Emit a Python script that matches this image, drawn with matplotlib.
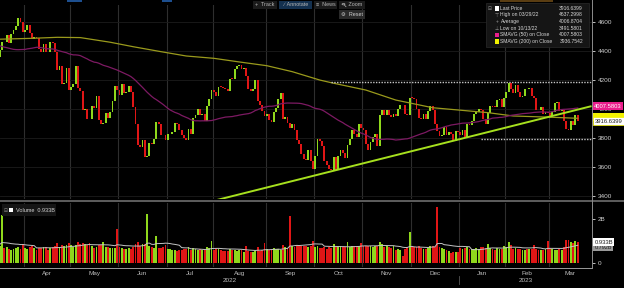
import numpy as np
import pandas as pd
import matplotlib
matplotlib.use('Agg')
import matplotlib.pyplot as plt
from matplotlib.patches import Rectangle, Circle
from matplotlib.lines import Line2D
from matplotlib.transforms import blended_transform_factory as blend

plt.rcParams['font.family'] = ['Liberation Sans', 'DejaVu Sans']

# ---- data ----
MONTHS = ['Mar', 'Apr', 'May', 'Jun', 'Jul', 'Aug', 'Sep', 'Oct', 'Nov', 'Dec', 'Jan', 'Feb', 'Mar']
MONTH_DAYS = [11, 20, 21, 21, 20, 23, 21, 21, 21, 21, 20, 19, 13]
YEARS = ['2022', '2023']
YEAR_START_MONTH = [0, 10]

# closes before the chart window (for the 50 day average), last one = open of first candle
PRE_CLOSES = [4796.56, 4793.54, 4700.58, 4696.05, 4677.03, 4670.29, 4713.07, 4726.35, 4659.03, 4662.85,
              4577.11, 4532.76, 4482.73, 4397.94, 4410.13, 4356.45, 4349.93, 4326.51, 4431.85, 4515.55,
              4546.54, 4589.38, 4477.44, 4500.53, 4483.87, 4521.54, 4587.18, 4504.08, 4418.64, 4401.67,
              4471.07, 4475.01, 4380.26, 4348.87, 4304.76, 4225.50, 4288.70, 4384.65, 4373.94, 4306.26,
              4386.54, 4363.49, 4328.87, 4201.09, 4170.70, 4277.88, 4259.52, 4204.31, 4173.11, 4262.45,
              4357.86]

closes = [
    # Mar 22
    4411.67, 4463.12, 4461.18, 4511.61, 4456.24, 4520.16, 4543.06, 4575.52, 4631.60, 4602.45, 4530.41,
    # Apr
    4545.86, 4582.64, 4525.12, 4481.15, 4500.21, 4488.28, 4412.53, 4397.45, 4446.59, 4392.59,
    4391.69, 4462.21, 4459.45, 4393.66, 4271.78, 4296.12, 4175.20, 4183.96, 4287.50, 4131.93,
    # May
    4155.38, 4175.48, 4300.17, 4146.87, 4123.34, 3991.24, 4001.05, 3935.18, 3930.08, 4023.89,
    4008.01, 4088.85, 3923.68, 3900.79, 3901.36, 3973.75, 3941.48, 3978.73, 4057.84, 4158.24, 4132.15,
    # Jun
    4101.23, 4176.82, 4108.54, 4121.43, 4160.68, 4115.77, 4017.82, 3900.86, 3749.63, 3735.48,
    3789.99, 3666.77, 3674.84, 3764.79, 3759.89, 3795.73, 3911.74, 3900.11, 3821.55, 3818.83, 3785.38,
    # Jul
    3825.33, 3831.39, 3845.08, 3902.62, 3899.38, 3854.43, 3818.80, 3801.78, 3790.38, 3863.16,
    3830.85, 3936.69, 3959.90, 3998.95, 3961.63, 3966.84, 3921.05, 4023.61, 4072.43, 4130.29,
    # Aug
    4118.63, 4091.19, 4155.17, 4151.94, 4145.19, 4140.06, 4122.47, 4210.24, 4207.27, 4280.15,
    4297.14, 4305.20, 4274.04, 4283.74, 4228.48, 4137.99, 4128.73, 4140.77, 4199.12, 4057.66,
    4030.61, 3986.16, 3955.00,
    # Sep
    3966.85, 3924.26, 3908.19, 3979.87, 4006.18, 4067.36, 4110.41, 3932.69, 3946.01, 3901.35,
    3873.33, 3899.89, 3855.93, 3789.93, 3757.99, 3693.23, 3655.04, 3647.29, 3719.04, 3640.47, 3585.62,
    # Oct
    3678.43, 3790.93, 3783.28, 3744.52, 3639.66, 3612.39, 3588.84, 3577.03, 3669.91, 3583.07,
    3677.95, 3719.98, 3695.16, 3665.78, 3752.75, 3797.34, 3859.11, 3830.60, 3807.30, 3901.06, 3871.98,
    # Nov
    3856.10, 3759.69, 3719.89, 3770.55, 3806.80, 3828.11, 3748.57, 3956.37, 3992.93, 3957.25,
    3991.73, 3958.79, 3946.56, 3965.34, 3949.94, 4003.58, 4027.26, 4026.12, 3963.94, 3957.63, 4080.11,
    # Dec
    4076.57, 4071.70, 3998.84, 3941.26, 3933.92, 3963.51, 3934.38, 3990.56, 4019.65, 3995.32,
    3895.75, 3852.36, 3817.66, 3821.62, 3878.44, 3822.39, 3844.82, 3829.25, 3783.22, 3849.28, 3839.50,
    # Jan 23
    3824.14, 3852.97, 3808.10, 3895.08, 3892.09, 3919.25, 3969.61, 3983.17, 3999.09, 3990.97,
    3928.86, 3898.85, 3972.61, 4019.81, 4016.95, 4016.22, 4060.43, 4070.56, 4017.77, 4076.60,
    # Feb
    4119.21, 4179.76, 4136.48, 4111.08, 4164.00, 4117.86, 4081.50, 4090.46, 4137.29, 4136.13,
    4147.60, 4090.41, 4079.09, 3997.34, 3991.05, 4012.32, 3970.04, 3982.24, 3970.15,
    # Mar
    3951.39, 3981.35, 4045.64, 4048.42, 3986.37, 3992.01, 3918.32, 3861.59, 3855.76, 3919.29,
    3891.93, 3960.28, 3916.64,
]

# volume in billions
VOL_PRE = [0.82, 0.78, 0.86, 0.80, 0.92, 0.84, 0.80, 0.78, 0.88, 0.82, 0.86, 0.80, 0.84, 0.90]
volume = [
    0.74, 2.15, 0.68, 0.70, 0.62, 0.60, 0.64, 0.66, 0.72, 0.64, 0.86,
    0.66, 0.62, 0.70, 0.74, 0.66, 0.60, 0.68, 0.66, 0.70, 0.72, 0.56, 0.66, 0.70, 0.74, 0.88, 0.72,
    0.82, 0.76, 0.80, 0.90,
    0.82, 0.72, 0.80, 0.92, 0.84, 0.88, 0.86, 0.82, 0.88, 0.76, 0.68, 0.72, 0.80, 0.82, 0.96, 0.72,
    0.70, 0.66, 0.68, 0.66, 1.55,
    0.70, 0.66, 0.62, 0.64, 0.66, 0.62, 0.70, 0.86, 0.92, 0.78, 0.86, 0.84, 2.20, 0.76, 0.70, 0.66,
    1.20, 0.66, 0.68, 0.72, 0.80,
    0.62, 0.64, 0.60, 0.58, 0.54, 0.56, 0.58, 0.62, 0.64, 0.70, 0.56, 0.66, 0.62, 0.60, 0.62, 0.56,
    0.58, 0.70, 0.68, 1.00,
    0.60, 0.62, 0.64, 0.56, 0.54, 0.52, 0.54, 0.62, 0.60, 0.56, 0.52, 0.56, 0.58, 0.50, 0.76, 0.54,
    0.50, 0.48, 0.52, 0.70, 0.54, 0.58, 0.90,
    0.62, 0.56, 0.64, 0.66, 0.62, 0.64, 0.60, 0.82, 0.70, 0.68, 2.12, 0.74, 0.72, 0.80, 0.78, 0.76,
    0.74, 0.76, 0.72, 0.78, 1.00,
    0.70, 0.74, 0.68, 0.66, 0.70, 0.64, 0.70, 0.68, 0.86, 0.70, 0.72, 0.74, 0.70, 0.72, 0.92, 0.72,
    0.74, 0.76, 0.72, 0.78, 0.90,
    0.74, 0.78, 0.76, 0.78, 0.72, 0.74, 0.76, 0.96, 0.86, 0.72, 0.74, 0.70, 0.68, 0.78, 0.60, 0.62,
    0.58, 0.30, 0.62, 0.72, 1.40,
    0.78, 0.70, 0.72, 0.74, 0.68, 0.64, 0.62, 0.66, 0.78, 0.76, 0.70, 2.52, 0.72, 0.66, 0.62, 0.60,
    0.52, 0.46, 0.50, 0.48, 0.50,
    0.66, 0.64, 0.66, 0.70, 0.64, 0.62, 0.64, 0.68, 0.62, 0.72, 0.70, 0.68, 0.86, 0.66, 0.62, 0.60,
    0.66, 0.64, 0.62, 0.76,
    0.72, 0.96, 0.80, 0.62, 0.66, 0.64, 0.62, 0.58, 0.60, 0.64, 0.62, 0.62, 0.80, 0.64, 0.58, 0.60,
    0.56, 0.62, 1.00,
    0.68, 0.62, 0.60, 0.58, 0.62, 0.60, 0.72, 1.02, 1.04, 0.96, 0.88, 1.00, 0.933,
]

# 200 day average (trading-day index, value)
SMA200_IDX = [0, 14, 25, 35, 48, 58, 70, 81, 93, 104, 116, 127, 139, 145, 159, 172, 188, 212, 223, 240, 251]
SMA200_VAL = [4483, 4489, 4496, 4494, 4462, 4431, 4397, 4367, 4351, 4326, 4300, 4259, 4201, 4179,
              4132, 4063, 4010, 3976, 3953, 3944, 3937]

# drawn trend line and horizontal levels
TREND_IDX = [90, 257]
TREND_VAL = [3356, 4021]
LEVELS = [4186, 3796]
LEVEL_START = [144, 209]

PRICE_TICKS = [3400, 3600, 3800, 4000, 4200, 4400, 4600]

LEGEND = [('Last Price', '3916.6399', '#ffffff'),
          ('High on 03/29/22', '4637.2998', None),
          ('Average', '4006.8704', None),
          ('Low on 10/13/22', '3491.5801', None),
          ('SMAVG (50) on Close', '4007.5803', '#ea1e8c'),
          ('SMAVG (200) on Close', '3936.7542', '#f2f200')]

# ---- derived ----
closes = np.array(closes)
volume = np.array(volume)
n = len(closes)
idx = np.arange(n)
opens = np.r_[PRE_CLOSES[-1], closes[:-1]]
up = closes >= opens
GREEN = '#8fd81c'
RED = '#e01616'
cols = np.where(up, GREEN, RED)

allc = pd.Series(np.r_[PRE_CLOSES, closes])
sma50 = allc.rolling(50).mean().values[-n:]
vavg = pd.Series(np.r_[VOL_PRE, volume]).rolling(15, min_periods=1).mean().values[-n:]

bounds = np.cumsum(MONTH_DAYS)[:-1] - 0.5
XL, XR = 0.13, 257.2

W, H = 624, 288


def fx(x):
    return x / W


def fy(y):
    return 1 - y / H


fig = plt.figure(figsize=(W / 100, H / 100), dpi=100, facecolor='black')
ax = fig.add_axes([0, fy(199), fx(592), (199 - 5) / H])
axv = fig.add_axes([0, fy(267), fx(592), (267 - 203) / H])

for a in (ax, axv):
    a.set_facecolor('black')
    for s in a.spines.values():
        s.set_visible(False)
    a.set_xlim(XL, XR)
    a.set_xticks([])
    for b in bounds:
        a.axvline(b, color='#2e2e2e', lw=0.8, zorder=0)
    a.yaxis.tick_right()
    a.tick_params(axis='y', length=2.5, width=0.6, color='#dddddd', labelcolor='#cfcfcf',
                  labelsize=4.6, pad=1.5)

# price panel
ax.set_ylim(3380, 4719)
ax.set_yticks(PRICE_TICKS)
ax.set_yticklabels([str(t) for t in PRICE_TICKS])
for t in PRICE_TICKS:
    ax.axhline(t, color='#1c1c1c', lw=0.6, zorder=0)

body = np.maximum(np.abs(closes - opens), 5)
ax.bar(idx, body, bottom=np.minimum(opens, closes), width=0.8, color=cols, linewidth=0,
       zorder=2, antialiased=False)
ax.plot(SMA200_IDX, SMA200_VAL, color='#9a9a1c', lw=0.9, zorder=3)
ax.plot(idx, sma50, color='#7d1a63', lw=0.9, zorder=3)
ax.plot(TREND_IDX, TREND_VAL, color='#a6e01e', lw=1.4, zorder=4, solid_capstyle='butt')
for lv, st in zip(LEVELS, LEVEL_START):
    ax.plot([st, XR], [lv, lv], color='#c8c8c8', lw=1.0, ls=(0, (1, 1)), zorder=4)

# value flags on the right
ytr = blend(ax.transAxes, ax.transData)
ax.text(1.004, sma50[-1] + 14, LEGEND[4][1], transform=ytr, fontsize=4.2, color='white',
        va='center', ha='left', clip_on=False,
        bbox=dict(boxstyle='square,pad=0.25', fc='#ea1e8c', ec='none'))
ax.text(1.004, SMA200_VAL[-1] + 12, LEGEND[0][1], transform=ytr, fontsize=4.2, color='#f2f200',
        va='center', ha='left', clip_on=False,
        bbox=dict(boxstyle='square,pad=0.25', fc='#f2f200', ec='none'))
ax.text(1.004, closes[-1], LEGEND[0][1], transform=ytr, fontsize=4.2, color='#202020',
        va='center', ha='left', clip_on=False,
        bbox=dict(boxstyle='square,pad=0.25', fc='white', ec='#f2f200', lw=0.5))

# volume panel
axv.set_ylim(-0.195, 2.714)
axv.set_yticks([0, 2])
axv.set_yticklabels(['0', '2B'])
axv.bar(idx, volume, width=0.8, color=cols, linewidth=0, zorder=2, antialiased=False)
axv.plot(idx, vavg, color='#c4c4c4', lw=0.7, zorder=3)
vtr = blend(axv.transAxes, axv.transData)
axv.text(1.004, vavg[-1] - 0.08, '%.3fB' % vavg[-1], transform=vtr, fontsize=4.0, color='#202020',
         va='center', ha='left', clip_on=False,
         bbox=dict(boxstyle='square,pad=0.2', fc='#9a9a9a', ec='none'))
axv.text(1.004, volume[-1], '%.3fB' % volume[-1], transform=vtr, fontsize=4.2, color='#202020',
         va='center', ha='left', clip_on=False,
         bbox=dict(boxstyle='square,pad=0.25', fc='white', ec='none'))

# month / year labels
bx = blend(axv.transData, fig.transFigure)
edges = np.r_[XL, bounds, XR]
for i, m in enumerate(MONTHS):
    if i == 0:
        continue
    fig.text((edges[i] + edges[i + 1]) / 2, fy(273.5), m, transform=bx, fontsize=4.6,
             color='#bdbdbd', ha='center', va='center')
ystarts = [edges[m] for m in YEAR_START_MONTH] + [XR]
for i, yr in enumerate(YEARS):
    fig.text((ystarts[i] + ystarts[i + 1]) / 2, fy(281), yr, transform=bx, fontsize=4.6,
             color='#bdbdbd', ha='center', va='center')
fig.add_artist(Line2D([ystarts[1], ystarts[1]], [fy(276), fy(284)], transform=bx, color='#555555', lw=0.6))

# frame lines
fig.add_artist(Line2D([0, 1], [fy(200.5), fy(200.5)], color='#5e5e5e', lw=1.4))
fig.add_artist(Line2D([0, fx(592)], [fy(267.5), fy(267.5)], color='#9a9a9a', lw=0.7))
fig.add_artist(Line2D([fx(592), fx(592)], [fy(0), fy(267.5)], color='#8c8c8c', lw=0.7))

# legend box
fig.add_artist(Rectangle((fx(486), fy(47)), fx(589 - 486), 44 / H, facecolor='#151515',
                         edgecolor='#2a2a2a', lw=0.5))
marks = [None, '\u22a4', '+', '\u22a5', None, None]
for k, (lab, val, sq) in enumerate(LEGEND):
    yy = 8.3 + k * 6.6
    if sq:
        fig.add_artist(Rectangle((fx(494.5), fy(yy + 2.2)), fx(4.4), 4.4 / H, facecolor=sq,
                                 edgecolor='none'))
    if marks[k]:
        fig.text(fx(497), fy(yy), marks[k], fontsize=3.4, color='#9a9a9a', ha='center', va='center')
    fig.text(fx(500.5), fy(yy), lab, fontsize=3.6, color='#d6d6d6', ha='left', va='center')
    fig.text(fx(583), fy(yy), val, fontsize=3.6, color='#d6d6d6', ha='right', va='center')
fig.text(fx(489.5), fy(8.3), '\u229f', fontsize=3.4, color='#8a8a8a', ha='center', va='center')

# volume legend
fig.add_artist(Rectangle((fx(2), fy(216)), fx(54), 12 / H, facecolor='#151515', edgecolor='none'))
fig.text(fx(5.5), fy(210), '\u229f', fontsize=3.4, color='#8a8a8a', ha='center', va='center')
fig.add_artist(Rectangle((fx(9), fy(212.3)), fx(4.4), 4.4 / H, facecolor='white', edgecolor='none'))
fig.text(fx(16), fy(210), 'Volume  %.3fB' % volume[-1], fontsize=4.0, color='#d6d6d6',
         ha='left', va='center')

# toolbar
buttons = [('+  Track', 253, 277, '#1b1b1b'), ('\u2215  Annotate', 279, 312, '#13304f'),
           ('\u2261  News', 314, 337, '#1b1b1b'), ('     Zoom', 339, 365, '#1b1b1b')]
for lab, x0, x1, c in buttons:
    fig.add_artist(Rectangle((fx(x0), fy(9)), fx(x1 - x0), 8.5 / H, facecolor=c, edgecolor='none'))
    fig.text(fx((x0 + x1) / 2), fy(4.8), lab, fontsize=3.9, color='#b8b8b8', ha='center', va='center')
# magnifier icon of the Zoom button
fig.add_artist(Circle((fx(343.5), fy(4.2)), 1.5 / W * 1.0, facecolor='none', edgecolor='#b8b8b8', lw=0.5))
fig.add_artist(Line2D([fx(344.6), fx(346)], [fy(5.3), fy(6.7)], color='#b8b8b8', lw=0.5))
fig.add_artist(Rectangle((fx(339), fy(18.5)), fx(26), 8.5 / H, facecolor='#2a2a2a', edgecolor='none'))
fig.text(fx(352), fy(14.2), '\u2699  Reset', fontsize=3.9, color='#d0d0d0', ha='center', va='center')
for x0, x1, c in [(67, 82, '#1d4f8f'), (162, 172, '#1d4f8f'), (500, 553, '#5a3d12')]:
    fig.add_artist(Rectangle((fx(x0), fy(1.5)), fx(x1 - x0), 1.5 / H, facecolor=c, edgecolor='none'))

fig.savefig('out.png', dpi=100, facecolor='black')
